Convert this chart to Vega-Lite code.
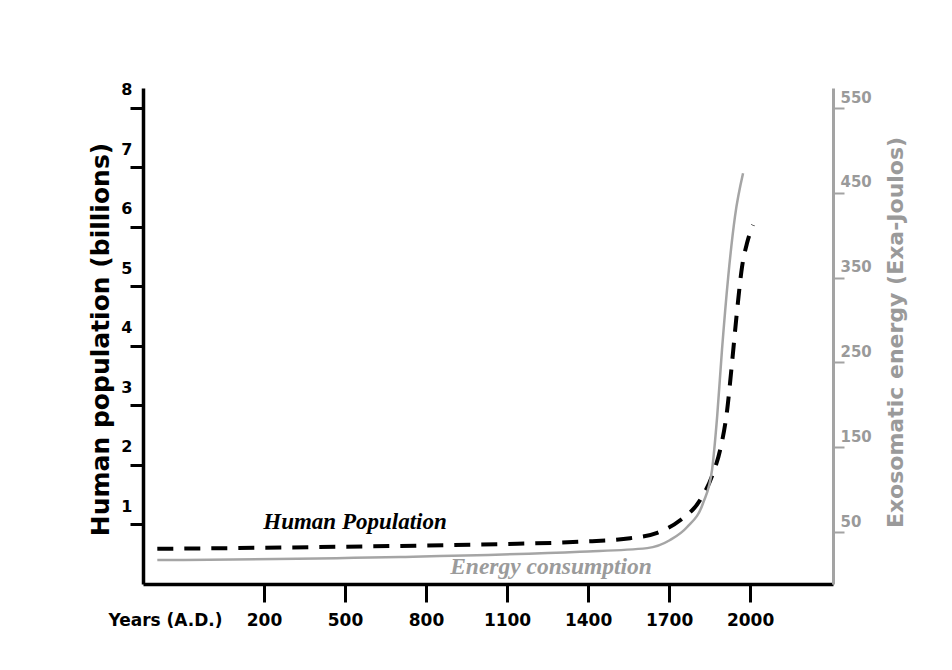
{
  "$schema": "https://vega.github.io/schema/vega-lite/v6.json",
  "width": 690,
  "height": 496,
  "autosize": {"type": "none"},
  "padding": {"left": 143, "top": 88, "right": 119, "bottom": 86},
  "background": "white",
  "config": {"view": {"stroke": null}, "font": "DejaVu Sans"},
  "datasets": {
    "population": [
      {"year": -195, "pop": 0.59},
      {"year": 704, "pop": 0.64},
      {"year": 1074, "pop": 0.67},
      {"year": 1370, "pop": 0.71},
      {"year": 1556, "pop": 0.77},
      {"year": 1656, "pop": 0.86},
      {"year": 1741, "pop": 1.07},
      {"year": 1815, "pop": 1.41},
      {"year": 1863, "pop": 1.86},
      {"year": 1889, "pop": 2.25},
      {"year": 1915, "pop": 2.92},
      {"year": 1933, "pop": 3.71},
      {"year": 1952, "pop": 4.6},
      {"year": 1970, "pop": 5.32},
      {"year": 1989, "pop": 5.73},
      {"year": 2011, "pop": 6.03}
    ],
    "energy": [
      {"year": -195, "energy": 17},
      {"year": 704, "energy": 20.5},
      {"year": 1370, "energy": 26.8},
      {"year": 1619, "energy": 31},
      {"year": 1704, "energy": 40.6},
      {"year": 1767, "energy": 55.9},
      {"year": 1826, "energy": 84.2},
      {"year": 1859, "energy": 123},
      {"year": 1878, "energy": 186},
      {"year": 1896, "energy": 265},
      {"year": 1919, "energy": 351},
      {"year": 1944, "energy": 422},
      {"year": 1974, "energy": 473}
    ],
    "labels": [
      {"label": "Human Population", "year": 537, "pop": 1.04, "series": "pop"},
      {"label": "Energy consumption", "year": 1263, "pop": 0.285, "series": "energy"}
    ]
  },
  "encoding": {
    "x": {
      "field": "year",
      "type": "quantitative",
      "scale": {"domain": [-248, 2307], "nice": false, "zero": false},
      "axis": {
        "title": "Years (A.D.)",
        "values": [200, 500, 800, 1100, 1400, 1700, 2000],
        "format": "d",
        "grid": false,
        "domainColor": "black",
        "domainWidth": 3.5,
        "tickColor": "black",
        "tickWidth": 3,
        "tickSize": 18,
        "labelFont": "DejaVu Sans",
        "labelFontWeight": "bold",
        "labelFontSize": 17,
        "labelColor": "black",
        "labelPadding": 10,
        "labelFlush": false,
        "labelOverlap": false,
        "titleFont": "DejaVu Sans",
        "titleFontWeight": "bold",
        "titleFontSize": 17,
        "titleColor": "black",
        "titleX": 22,
        "titleY": 36,
        "titleAlign": "center",
        "titleBaseline": "middle"
      }
    }
  },
  "layer": [
    {
      "layer": [
        {
          "data": {"name": "population"},
          "mark": {"type": "line", "interpolate": "monotone", "color": "black", "strokeWidth": 4, "strokeDash": [16, 11]},
          "encoding": {
            "y": {
              "field": "pop",
              "type": "quantitative",
              "scale": {"domain": [0, 8.33], "nice": false},
              "axis": {
                "title": "Human population (billions)",
                "values": [1, 2, 3, 4, 5, 6, 7, 8],
                "format": "d",
                "grid": false,
                "domainColor": "black",
                "domainWidth": 3.5,
                "tickColor": "black",
                "tickWidth": 3,
                "tickSize": 13,
                "labelFont": "DejaVu Sans",
                "labelFontWeight": "bold",
                "labelFontSize": 16,
                "labelColor": "black",
                "labelPadding": -2,
                "labelOffset": -18,
                "labelFlush": false,
                "labelOverlap": false,
                "titleFont": "DejaVu Sans",
                "titleFontWeight": "bold",
                "titleFontSize": 25,
                "titleColor": "black",
                "titleAngle": -90,
                "titleX": -43,
                "titleY": 251,
                "titleAlign": "center",
                "titleBaseline": "middle"
              }
            }
          }
        },
        {
          "data": {"name": "labels"},
          "transform": [{"filter": "datum.series == 'pop'"}],
          "mark": {"type": "text", "font": "Liberation Serif", "fontWeight": "bold", "fontStyle": "italic", "fontSize": 23, "color": "black", "align": "center", "baseline": "middle"},
          "encoding": {
            "y": {"field": "pop", "type": "quantitative", "title": "Human population (billions)"},
            "text": {"field": "label"}
          }
        },
        {
          "data": {"name": "labels"},
          "transform": [{"filter": "datum.series == 'energy'"}],
          "mark": {"type": "text", "font": "Liberation Serif", "fontWeight": "bold", "fontStyle": "italic", "fontSize": 23.5, "color": "#9b9b9b", "align": "center", "baseline": "middle"},
          "encoding": {
            "y": {"field": "pop", "type": "quantitative", "title": "Human population (billions)"},
            "text": {"field": "label"}
          }
        }
      ]
    },
    {
      "data": {"name": "energy"},
      "mark": {"type": "line", "interpolate": "monotone", "color": "#a5a5a5", "strokeWidth": 2.5},
      "encoding": {
        "y": {
          "field": "energy",
          "type": "quantitative",
          "scale": {"domain": [-11.3, 573.6], "nice": false, "zero": false},
          "axis": {
            "orient": "right",
            "title": "Exosomatic energy (Exa-Joulos)",
            "values": [50, 150, 250, 350, 450, 550],
            "format": "d",
            "grid": false,
            "domainColor": "#a3a3a3",
            "domainWidth": 3,
            "tickColor": "#a3a3a3",
            "tickWidth": 2,
            "tickSize": 11,
            "labelFont": "DejaVu Sans",
            "labelColor": "#9a9a9a",
            "labelFontWeight": "bold",
            "labelFontSize": 15,
            "labelPadding": -4,
            "labelOffset": -11,
            "labelFlush": false,
            "labelOverlap": false,
            "titleFont": "DejaVu Sans",
            "titleColor": "#9a9a9a",
            "titleFontWeight": "bold",
            "titleFontSize": 22,
            "titleAngle": -90,
            "titleX": 62,
            "titleY": 244,
            "titleAlign": "center",
            "titleBaseline": "middle"
          }
        }
      }
    }
  ],
  "resolve": {"scale": {"y": "independent"}}
}
